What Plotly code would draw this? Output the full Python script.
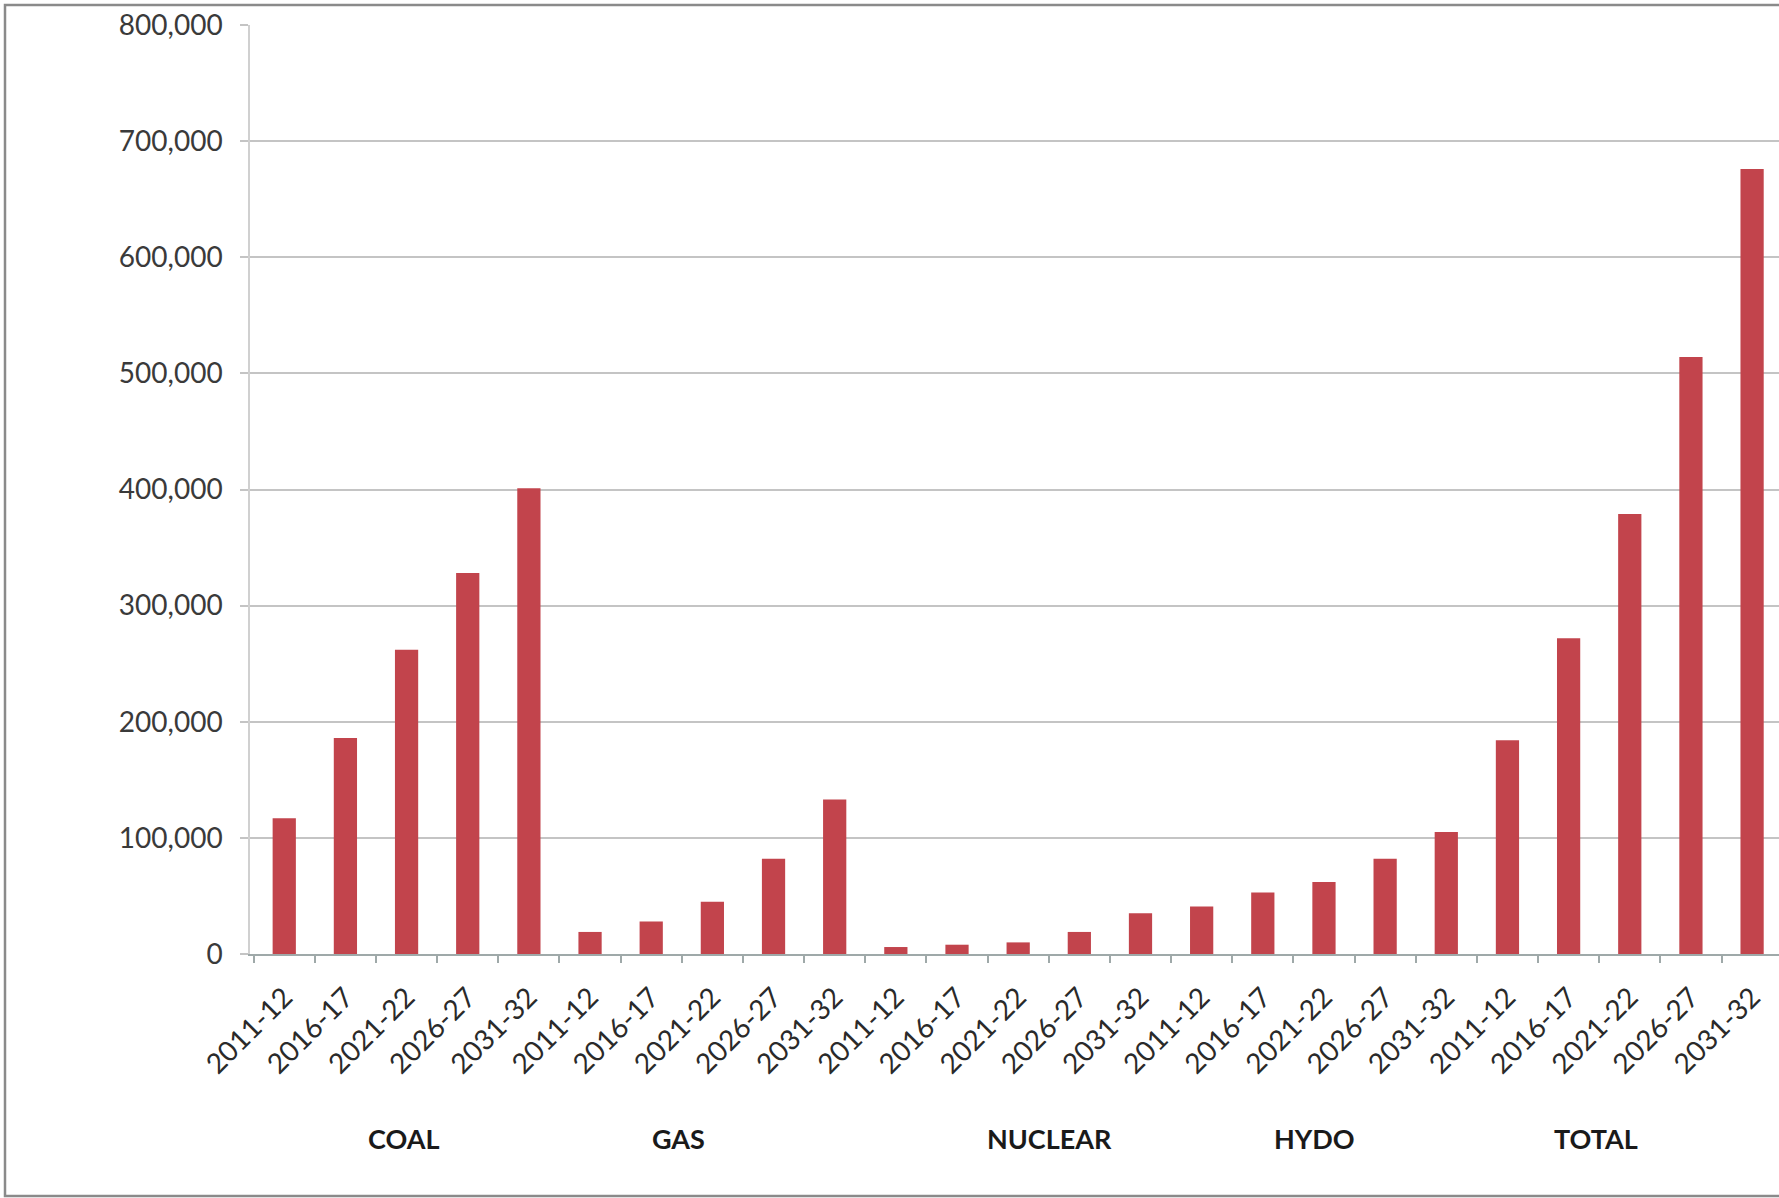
import plotly.graph_objects as go

# Installed capacity projections by fuel (MW)
periods = ["2011-12", "2016-17", "2021-22", "2026-27", "2031-32"]
fuels = ["COAL", "GAS", "NUCLEAR", "HYDO", "TOTAL"]

coal = [117000, 186000, 262000, 328000, 401000]
gas = [19000, 28000, 45000, 82000, 133000]
nuclear = [6000, 8000, 10000, 19000, 35000]
hydro = [41000, 53000, 62000, 82000, 105000]
total = [184000, 272000, 379000, 514000, 676000]

y_ticks = [0, 100000, 200000, 300000, 400000, 500000, 600000, 700000, 800000]

# group label anchors along the category axis
fuel_label_pos = [1.95, 6.44, 12.51, 16.84, 21.44]

series = [coal, gas, nuclear, hydro, total]
values = [v for s in series for v in s]
labels = periods * len(series)
xpos = list(range(len(values)))

W, H = 1779, 1198
ML, MR, MT, MB = 250, 0, 25, 244
plot_w = W - ML - MR
plot_h = H - MT - MB

FONT = "Lato, Calibri, Carlito, sans-serif"
BAR = "#C2444C"

fig = go.Figure(
    go.Bar(
        x=xpos,
        y=values,
        marker=dict(color=BAR, line=dict(width=0)),
        hoverinfo="skip",
    )
)

fig.update_layout(
    width=W,
    height=H,
    margin=dict(l=ML, r=MR, t=MT, b=MB, pad=0),
    paper_bgcolor="white",
    plot_bgcolor="white",
    bargap=0.62,
    showlegend=False,
    font=dict(family=FONT, size=28, color="#333333"),
)

fig.update_xaxes(
    range=[-0.56, 24.44],
    tickmode="array",
    tickvals=xpos,
    ticktext=labels,
    tickangle=-45,
    ticks="",
    ticklabelstandoff=14,
    showgrid=False,
    zeroline=False,
    showline=True,
    linecolor="#9fa9a9",
    linewidth=1.5,
    tickfont=dict(family=FONT, size=28, color="#2a2a2a"),
    minor=dict(
        tickmode="linear",
        tick0=-0.5,
        dtick=1,
        ticks="outside",
        ticklen=7,
        tickwidth=1.5,
        tickcolor="#9fa9a9",
        showgrid=False,
    ),
)

fig.update_yaxes(
    range=[0, 800000],
    tickmode="array",
    tickvals=y_ticks,
    ticktext=[f"{v:,}" for v in y_ticks],
    ticks="outside",
    ticklen=8,
    tickwidth=1.5,
    tickcolor="#c4c4c4",
    ticklabelstandoff=12,
    showgrid=True,
    gridcolor="#c4c4c4",
    gridwidth=1.5,
    zeroline=False,
    showline=True,
    linecolor="#d0d0d0",
    linewidth=1.5,
    tickfont=dict(family=FONT, size=28, color="#3a3a3a"),
)

# fuel group captions under the period labels
for name, pos in zip(fuels, fuel_label_pos):
    fig.add_annotation(
        x=pos,
        xref="x",
        y=-184 / plot_h,
        yref="paper",
        text=f"<b>{name}</b>",
        showarrow=False,
        xanchor="center",
        yanchor="middle",
        font=dict(family=FONT, size=27, color="#1a1a1a"),
    )

# chart-area frame
fig.add_shape(
    type="rect",
    xref="paper",
    yref="paper",
    x0=(5 - ML) / plot_w,
    x1=(W + 20 - ML) / plot_w,
    y0=(MT + plot_h - 1196) / plot_h,
    y1=1 + (MT - 5) / plot_h,
    line=dict(color="#8a8a8a", width=2.5),
    fillcolor="rgba(0,0,0,0)",
    layer="above",
)

fig.write_html("out.html")
